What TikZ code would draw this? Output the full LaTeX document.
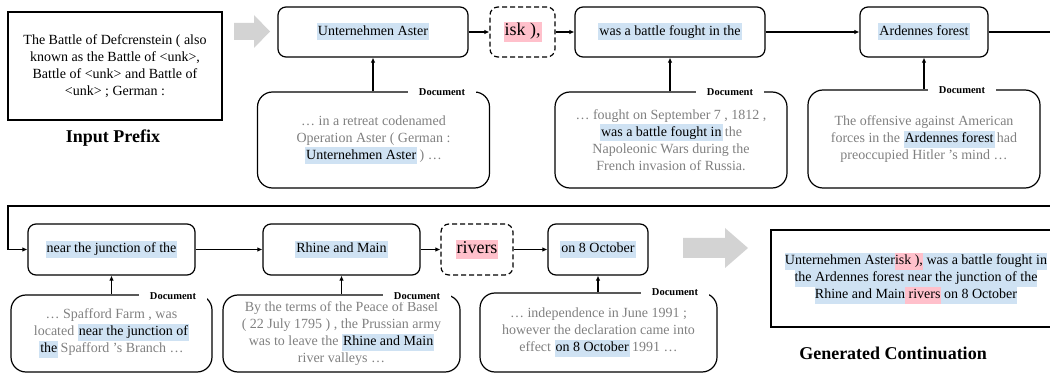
\documentclass[tikz,border=0pt]{standalone}
\usepackage{fontspec}
\setmainfont{Liberation Serif}
\usetikzlibrary{arrows.meta}
\definecolor{hlblue}{RGB}{207,226,243}
\definecolor{hlpink}{RGB}{255,192,203}
\definecolor{doctext}{RGB}{128,128,128}
\definecolor{bigarrow}{RGB}{211,211,211}
\newcommand\hlb[1]{{\setlength\fboxsep{0pt}\colorbox{hlblue}{\strut\kern1pt\color{black}#1\kern1pt}}}
\newcommand\hlp[1]{{\setlength\fboxsep{0pt}\colorbox{hlpink}{\strut\kern1pt\color{black}#1\kern1pt}}}
\newcommand\hlbx[1]{{\setlength\fboxsep{0pt}\colorbox{hlblue}{\strut#1}}}
\newcommand\hlpx[1]{{\setlength\fboxsep{0pt}\colorbox{hlpink}{\strut#1}}}
\newcommand\apos{{\char"0027}}
\begin{document}
\begin{tikzpicture}[x=1pt,y=-1pt,
  tok/.style={draw, rounded corners=8pt, line width=1.2pt, minimum height=50pt, inner sep=0pt,
    font=\fontsize{14}{17}\selectfont},
  dtok/.style={tok, dash pattern=on 5pt off 3pt, font=\fontsize{18}{20}\selectfont},
  doc/.style={draw, rounded corners=15pt, line width=1.2pt, inner sep=0pt, align=center,
    text=doctext, font=\fontsize{14}{17}\selectfont},
  doclabel/.style={fill=white, inner xsep=11pt, inner ysep=2pt, font=\bfseries\fontsize{10.5}{12}\selectfont},
  plain/.style={draw, line width=1.2pt, inner sep=0pt, align=center, font=\fontsize{14}{17}\selectfont},
  title/.style={font=\bfseries\fontsize{18}{21}\selectfont},
  conn/.style={line width=1.1pt, -{Latex[length=5pt,width=4.5pt]}},
  grayarrow/.style={fill=bigarrow, draw=none}
]
\useasboundingbox (0,0) rectangle (1050,374);
\begin{scope}
\clip (0,0) rectangle (1050,374);

% Input prefix
\node[plain, minimum width=214pt, minimum height=108pt] (inp) at (115,66)
  {The Battle of Defcrenstein ( also\\known as the Battle of <unk>,\\Battle of <unk> and Battle of\\<unk> ; German :};
\node[title] (inplab) at (113,138) {Input Prefix};

% big gray arrows
\fill[grayarrow] (234,23) -- (254,23) -- (254,15) -- (270,31.5) -- (254,48) -- (254,40) -- (234,40) -- cycle;
\fill[grayarrow] (683,238) -- (725,238) -- (725,228) -- (748,248) -- (725,268) -- (725,258) -- (683,258) -- cycle;

% row 1 tokens
\node[tok, minimum width=190pt] (t1) at (373,32) {\hlb{Unternehmen Aster}};
\node[dtok, minimum width=65pt] (t2) at (522.5,32) {\hlp{isk ),}};
\node[tok, minimum width=190pt] (t3) at (670,32) {\hlb{was a battle fought in the}};
\node[tok, minimum width=128pt] (t4) at (924,32) {\hlb{Ardennes forest}};

% row 1 documents
\node[doc, minimum width=232pt, minimum height=96pt] (d1) at (373.5,140)
  {… in a retreat codenamed\\Operation Aster ( German :\\\hlb{Unternehmen Aster}\,) …};
\node[doclabel] (d1l) at (442,92) {Document};
\node[doc, minimum width=232pt, minimum height=96pt] (d2) at (671,140)
  {… fought on September 7 , 1812 ,\\\hlb{was a battle fought in}\,the\\Napoleonic Wars during the\\French invasion of Russia.};
\node[doclabel] (d2l) at (730,92) {Document};
\node[doc, minimum width=232pt, minimum height=98pt] (d3) at (924,139)
  {The offensive against American\\forces in the \hlb{Ardennes forest}\,had\\preoccupied Hitler \apos s mind …};
\node[doclabel] (d3l) at (962,90) {Document};

% row 2 tokens
\node[tok, minimum width=167pt, minimum height=51pt] (t5) at (111.5,249.5) {\hlb{near the junction of the}};
\node[tok, minimum width=157pt, minimum height=51pt] (t6) at (341.5,249.5) {\hlb{Rhine and Main}};
\node[dtok, minimum width=72pt, minimum height=51pt] (t7) at (477,249.5) {\hlp{rivers}};
\node[tok, minimum width=100pt, minimum height=51pt] (t8) at (598,249.5) {\hlb{on 8 October}};

% row 2 documents
\node[doc, minimum width=201pt, minimum height=77pt] (d4) at (111.5,333.5)
  {… Spafford Farm , was\\located \hlb{near the junction of}\\\hlb{the}\,Spafford \apos s Branch …};
\node[doclabel] (d4l) at (173,296) {Document};
\node[doc, minimum width=237pt, minimum height=77pt] (d5) at (341.5,333.5)
  {By the terms of the Peace of Basel\\( 22 July 1795 ) , the Prussian army\\was to leave the \hlb{Rhine and Main}\\river valleys …};
\node[doclabel] (d5l) at (417,296) {Document};
\node[doc, minimum width=237pt, minimum height=79pt] (d6) at (598.5,332.5)
  {… independence in June 1991 ;\\however the declaration came into\\effect \hlb{on 8 October}\,1991 …};
\node[doclabel] (d6l) at (675,292) {Document};

% generated continuation
\node[plain, minimum width=290pt, minimum height=97pt] (gen) at (916,278.5)
  {\hlbx{Unternehmen Aster}\hlpx{isk ),}\hlbx{ was a battle fought in}\\
   \hlbx{the Ardennes forest near the junction of the}\\
   \hlbx{Rhine and Main}\hlpx{ rivers}\hlbx{ on 8 October}};
\node[title] (genlab) at (893,353) {Generated Continuation};

% connectors row 1
\draw[conn] (t1) -- (t2);
\draw[conn] (t2) -- (t3);
\draw[conn] (t3) -- (t4);
\draw[conn] (d1.north -| t1) -- (t1.south);
\draw[conn] (d2.north -| t3) -- (t3.south);
\draw[conn] (d3.north -| t4) -- (t4.south);

% wrap connector
\coordinate (wr1) at (1062,32);
\coordinate (wr2) at (1062,206);
\coordinate (wl1) at (8,206);
\draw[conn] (t4.east) -- (wr1) -- (wr2) -- (wl1) |- (t5.west);

% connectors row 2
\draw[conn] (t5) -- (t6);
\draw[conn] (t6) -- (t7);
\draw[conn] (t7) -- (t8);
\draw[conn] (d4.north -| t5) -- (t5.south);
\draw[conn] (d5.north -| t6) -- (t6.south);
\draw[conn] (d6.north -| t8) -- (t8.south);
\end{scope}
\end{tikzpicture}
\end{document}
